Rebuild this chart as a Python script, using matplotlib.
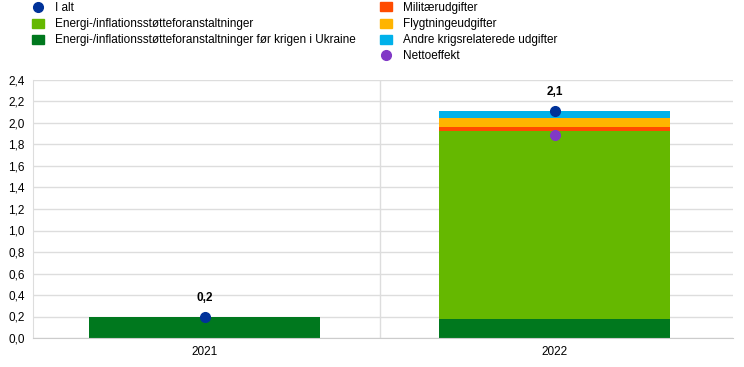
import numpy as np
import matplotlib.pyplot as plt
from matplotlib.lines import Line2D
from matplotlib.patches import Patch

plt.rcParams['font.family'] = ['Liberation Sans', 'DejaVu Sans']

# data
years = ['2021', '2022']
energi_foer = [0.20, 0.18]
energi = [0.00, 1.75]
militaer = [0.00, 0.03]
flygtning = [0.00, 0.09]
andre = [0.00, 0.06]
i_alt = [0.20, 2.11]
netto = [np.nan, 1.89]
labels_i_alt = ['0,2', '2,1']

c_dgreen = '#00781e'
c_lgreen = '#65b800'
c_orange = '#ff4b00'
c_yellow = '#ffb400'
c_blue = '#00b1ea'
c_navy = '#003299'
c_purple = '#8139c6'

fig = plt.figure(figsize=(7.44, 3.67), dpi=100)
ax = fig.add_axes([33/744, 29/367, 700/744, 258/367])

x = np.arange(len(years))
w = 0.66
bottom = np.zeros(len(years))
for vals, col in [(energi_foer, c_dgreen), (energi, c_lgreen), (militaer, c_orange),
                  (flygtning, c_yellow), (andre, c_blue)]:
    ax.bar(x, vals, w, bottom=bottom, color=col, zorder=2)
    bottom += np.array(vals)

ax.plot(x, i_alt, 'o', color=c_navy, ms=7, zorder=3)
ax.plot(x, netto, 'o', color=c_purple, ms=7, zorder=3)
for xi, v, lab in zip(x, i_alt, labels_i_alt):
    ax.text(xi, v + 0.12, lab, ha='center', va='bottom', fontsize=8.5, fontweight='bold')

ax.set_xlim(-0.49, 1.51)
ax.set_ylim(0, 2.4)
yt = np.arange(0, 2.41, 0.2)
ax.set_yticks(yt)
ax.set_yticklabels([f'{v:.1f}'.replace('.', ',') for v in yt], fontsize=8.5)
ax.set_xticks(x)
ax.set_xticklabels(years, fontsize=8.5)
ax.grid(axis='y', color='#dddddd', lw=1, zorder=0)
ax.axvline(0.5, color='#dddddd', lw=1, zorder=0)
ax.tick_params(length=0, pad=6)
for s in ['top', 'right']:
    ax.spines[s].set_visible(False)
ax.spines['left'].set_color('#dddddd')
ax.spines['bottom'].set_color('#cccccc')

h1 = [Line2D([], [], marker='o', color=c_navy, ls='', ms=7),
      Patch(color=c_lgreen), Patch(color=c_dgreen)]
l1 = ['I alt', 'Energi-/inflationsstøtteforanstaltninger',
      'Energi-/inflationsstøtteforanstaltninger før krigen i Ukraine']
h2 = [Patch(color=c_orange), Patch(color=c_yellow), Patch(color=c_blue),
      Line2D([], [], marker='o', color=c_purple, ls='', ms=7)]
l2 = ['Militærudgifter', 'Flygtningeudgifter', 'Andre krigsrelaterede udgifter', 'Nettoeffekt']
kw = dict(frameon=False, fontsize=8.5, handlelength=1.0, handleheight=0.8,
          labelspacing=0.35, handletextpad=0.95, borderaxespad=0, borderpad=0)
fig.legend(h1, l1, loc='upper left', bbox_to_anchor=(32/744, 1 - 2/367), **kw)
fig.legend(h2, l2, loc='upper left', bbox_to_anchor=(380/744, 1 - 2/367), **kw)

fig.savefig('out.png', dpi=100)
